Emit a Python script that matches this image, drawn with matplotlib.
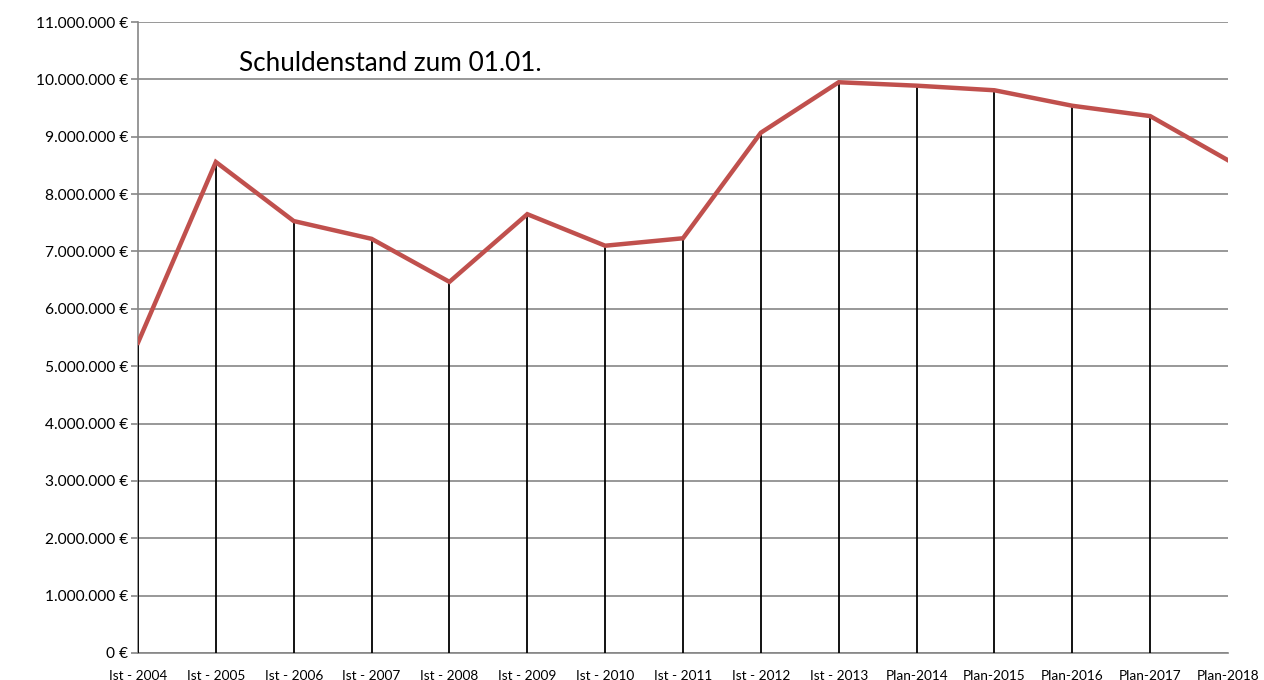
import matplotlib.pyplot as plt
from matplotlib.ticker import FuncFormatter, MultipleLocator

plt.rcParams['font.family'] = ['Lato', 'DejaVu Sans']

# Schuldenstand zum 01.01. (Euro)
years = ['Ist - 2004', 'Ist - 2005', 'Ist - 2006', 'Ist - 2007', 'Ist - 2008',
         'Ist - 2009', 'Ist - 2010', 'Ist - 2011', 'Ist - 2012', 'Ist - 2013',
         'Plan-2014', 'Plan-2015', 'Plan-2016', 'Plan-2017', 'Plan-2018']
debt = [5410000, 8560000, 7530000, 7220000, 6470000,
        7650000, 7100000, 7230000, 9070000, 9950000,
        9890000, 9810000, 9540000, 9360000, 8590000]


def euro(v, pos):
    return '{:,.0f} €'.format(v).replace(',', '.')


fig = plt.figure(figsize=(12.64, 6.8), dpi=100)
ax = fig.add_axes([138 / 1264, 27 / 680, (1228 - 138) / 1264, (653 - 22) / 680])

x = list(range(len(years)))

# drop lines down to the axis
ax.vlines(x[:-1], 0, debt[:-1], color='black', lw=1.3, zorder=2.6)
ax.plot(x, debt, color='#C0504D', lw=3.2, solid_joinstyle='miter', zorder=3)

ax.set_xlim(0, len(years) - 1)
ax.set_ylim(0, 11000000)
ax.yaxis.set_major_locator(MultipleLocator(1000000))
ax.yaxis.set_major_formatter(FuncFormatter(euro))
ax.set_xticks(x)
ax.set_xticklabels(years, fontsize=9.8)

ax.grid(axis='y', color='#868686', lw=1.2, zorder=1)
ax.set_axisbelow(True)
for s in ['top', 'right']:
    ax.spines[s].set_visible(False)
for s in ['left', 'bottom']:
    ax.spines[s].set_color('#868686')
    ax.spines[s].set_linewidth(1.2)
ax.tick_params(axis='y', length=5, width=1.2, color='#868686', labelsize=11.2, pad=2)
ax.tick_params(axis='x', length=0, pad=12)

ax.text(0.093, 0.935, 'Schuldenstand zum 01.01.', transform=ax.transAxes,
        fontsize=18.8, va='center', ha='left', color='black')

fig.savefig('out.png', dpi=100)
